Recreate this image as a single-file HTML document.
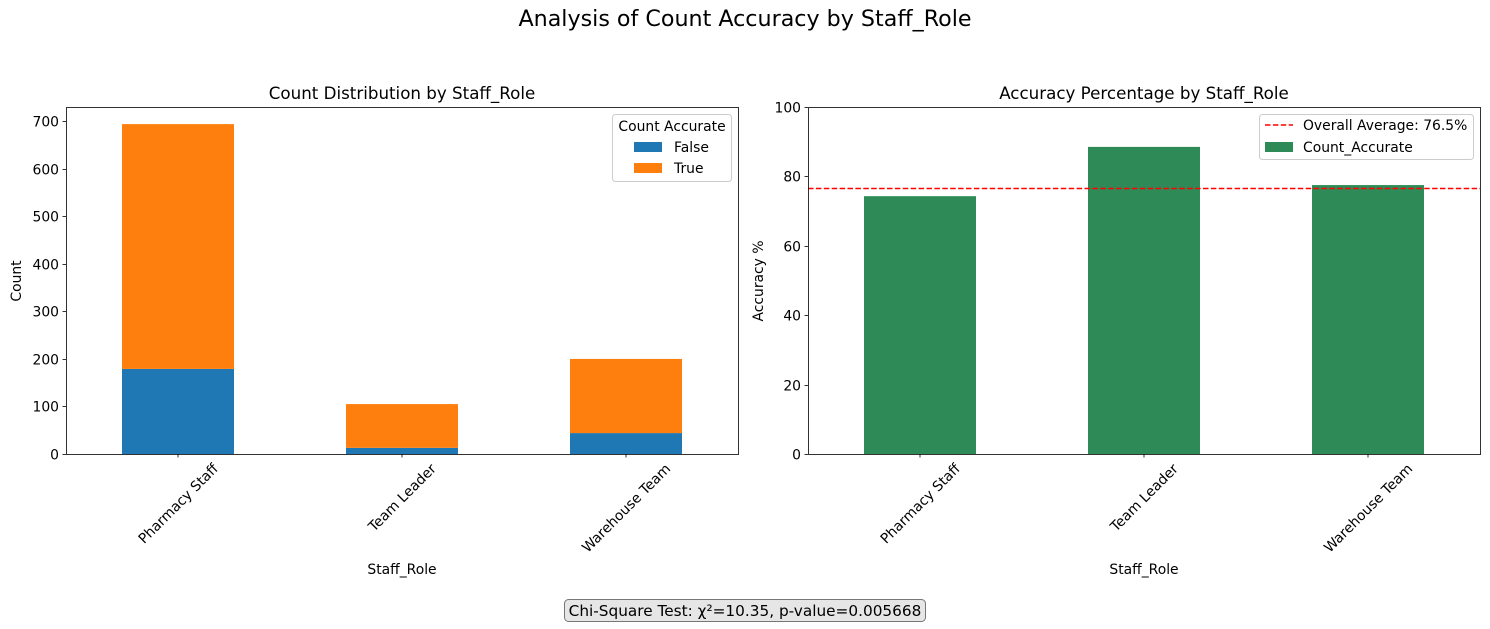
<!DOCTYPE html>
<html><head><meta charset="utf-8"><style>
body{margin:0;background:#fff}
svg{display:block;font-family:"DejaVu Sans","Liberation Sans",sans-serif}
</style></head><body>
<svg id="c" width="1490" height="629">
<text x="745" y="26" font-size="22.2" text-anchor="middle">Analysis of Count Accuracy by Staff_Role</text>
<text x="402" y="99" font-size="16.7" text-anchor="middle">Count Distribution by Staff_Role</text>
<text x="1144" y="99" font-size="16.7" text-anchor="middle">Accuracy Percentage by Staff_Role</text>
<g id="L"></g><g id="R"></g>
<text x="402" y="574" font-size="13.9" text-anchor="middle">Staff_Role</text>
<text x="1144" y="574" font-size="13.9" text-anchor="middle">Staff_Role</text>
<text transform="translate(21,281) rotate(-90)" font-size="13.9" text-anchor="middle">Count</text>
<text transform="translate(763,281) rotate(-90)" font-size="13.9" text-anchor="middle">Accuracy %</text>
<g>
<rect x="612.5" y="114.5" width="119" height="67" rx="3" fill="#fff" fill-opacity="0.8" stroke="#ccc"/>
<text x="672" y="131" font-size="13.9" text-anchor="middle">Count Accurate</text>
<rect x="634" y="142" width="28" height="10" fill="#1f77b4"/>
<text x="674" y="152" font-size="13.9">False</text>
<rect x="634" y="163" width="28" height="10" fill="#ff7f0e"/>
<text x="674" y="173" font-size="13.9">True</text>
</g>
<g>
<rect x="1259.5" y="114.5" width="214" height="45" rx="3" fill="#fff" fill-opacity="0.8" stroke="#ccc"/>
<line x1="1265" y1="125" x2="1293" y2="125" stroke="#f00" stroke-width="1.5" stroke-dasharray="5.5,2.4"/>
<text x="1303" y="130" font-size="13.9">Overall Average: 76.5%</text>
<rect x="1265" y="142" width="28" height="10" fill="#2e8b57"/>
<text x="1303" y="152" font-size="13.9">Count_Accurate</text>
</g>
<g>
<rect x="564.5" y="599.5" width="361" height="22" rx="4" fill="#e6e6e6" stroke="#777"/>
<text x="745" y="616" font-size="15.3" text-anchor="middle">Chi-Square Test: χ²=10.35, p-value=0.005668</text>
</g>
</svg>
<script>
const categories=["Pharmacy Staff","Team Leader","Warehouse Team"];
const falseCounts=[179,13,44];
const trueCounts=[515,92,156];
const accuracy=[74.3,88.5,77.5];
const overallAvg=76.5;
const leftTicks=[0,100,200,300,400,500,600,700];
const rightTicks=[0,20,40,60,80,100];
const NS="http://www.w3.org/2000/svg";
function mk(p,t,a){const e=document.createElementNS(NS,t);for(const k in a)e.setAttribute(k,a[k]);p.appendChild(e);return e;}
function axes(g,x0,x1,yMax,ticks){
  const top=107,bot=454;
  const y=v=>bot-(v/yMax)*(bot-top);
  const bx=i=>x0+(x1-x0)*(i+0.5)/categories.length;
  const bw=(x1-x0)/categories.length*0.5;
  return {y,bx,bw,top,bot,finish(){
    mk(g,'rect',{x:x0+0.5,y:top+0.5,width:x1-x0,height:bot-top,fill:'none',stroke:'#000','stroke-width':0.8});
    ticks.forEach(t=>{const yy=Math.round(y(t))+0.5;
      mk(g,'line',{x1:x0-3.5,x2:x0,y1:yy,y2:yy,stroke:'#000','stroke-width':0.8});
      const tx=mk(g,'text',{x:x0-7,y:yy+5,'font-size':13.9,'text-anchor':'end'});tx.textContent=t;
      
      });
    categories.forEach((c,i)=>{const xx=bx(i);
      mk(g,'line',{x1:xx,x2:xx,y1:bot,y2:bot+3.5,stroke:'#000','stroke-width':0.8});
      const tx=mk(g,'text',{'font-size':13.9,'text-anchor':'middle'});tx.textContent=c;
      const w=tx.getComputedTextLength();const h=(w/2)*0.7071+5;
      tx.setAttribute('transform',`translate(${xx},${bot+7+h}) rotate(-45)`);tx.setAttribute('dy','5');
      
      });
  }};
}
const L=document.getElementById('L');
const a=axes(L,66,738,730,leftTicks);
categories.forEach((c,i)=>{
  const r1=mk(L,'rect',{x:a.bx(i)-a.bw/2,y:a.y(falseCounts[i]),width:a.bw,height:a.bot-a.y(falseCounts[i]),fill:'#1f77b4'});
  
  
  const tot=falseCounts[i]+trueCounts[i];
  const r2=mk(L,'rect',{x:a.bx(i)-a.bw/2,y:a.y(tot),width:a.bw,height:a.y(falseCounts[i])-a.y(tot),fill:'#ff7f0e'});
  
  
});
a.finish();
const R=document.getElementById('R');
const b=axes(R,808,1480,100,rightTicks);
categories.forEach((c,i)=>{
  const r=mk(R,'rect',{x:b.bx(i)-b.bw/2,y:b.y(accuracy[i]),width:b.bw,height:b.bot-b.y(accuracy[i]),fill:'#2e8b57'});
  
  
});
const ln=mk(R,'line',{x1:808,x2:1480,y1:b.y(overallAvg),y2:b.y(overallAvg),stroke:'#f00','stroke-width':1.5,'stroke-dasharray':'5.5,2.4'});


b.finish();
</script>
</body></html>
